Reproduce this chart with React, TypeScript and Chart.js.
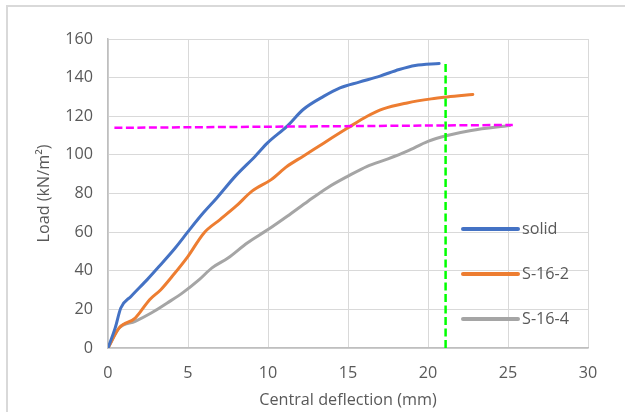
import React, { useEffect, useRef } from "react";
import { Chart, registerables } from "chart.js";

Chart.register(...registerables);

// ---- data ----
const solidX = [0, 0.45, 0.8, 1.45, 2.45, 3.2, 4.2, 5.1, 5.96, 6.8, 7.96, 9.2, 9.97, 11.2, 12.2, 13.5, 14.5, 15.7, 17, 18.2, 19.2, 20.7];
const solidY = [0, 10.4, 20.7, 26.8, 35.4, 42.3, 51.8, 61.3, 70, 77.7, 89, 99.3, 106.2, 114.9, 123.5, 130.4, 134.7, 137.7, 140.8, 144.2, 146.3, 147.3];

const s162X = [0, 0.7, 1.7, 2.6, 3.3, 4, 5, 6, 7, 8, 9, 10.2, 11.2, 12.2, 13.5, 15, 16.2, 17.2, 18.7, 20.2, 21.2, 22.8];
const s162Y = [0, 10.4, 15.5, 25, 30.2, 37, 47.5, 59.6, 66.5, 73.4, 81.2, 87.2, 94.1, 99.3, 106.2, 114, 120, 123.8, 126.9, 129, 130, 131.3];

const s164X = [0, 0.7, 1.7, 2.7, 3.7, 4.7, 5.7, 6.5, 7.5, 8.7, 10, 11.2, 12.5, 13.7, 15, 16.2, 17.5, 18.7, 20, 21.2, 22.7, 25.1];
const s164Y = [0, 10.4, 13.8, 18.1, 23.3, 28.8, 35.4, 41.5, 46.6, 54.4, 61.3, 68.2, 76, 82.9, 89, 94.1, 97.9, 101.9, 107, 110, 112.6, 115.2];

const hLineX = [0.4, 25.3];
const hLineY = [114, 115.5];
const vLineX = [21.1, 21.1];
const vLineY = [0, 147.5];

const seriesNames = ["solid", "S-16-2", "S-16-4"];
const seriesColors = ["#4472c4", "#ed7d31", "#a5a5a5"];

const xTicks = { min: 0, max: 30, step: 5 };
const yTicks = { min: 0, max: 160, step: 20 };

const xTitle = "Central deflection (mm)";
const yTitle = "Load (kN/m²)";

const FONT = "'Open Sans', 'Noto Sans', sans-serif";
const FS = 16.2;
const TEXT = "#595959";

const pts = (xs: number[], ys: number[]) => xs.map((x, i) => ({ x, y: ys[i] }));

const legendPlugin = {
  id: "customLegend",
  afterDatasetsDraw(chart: any) {
    const { ctx, chartArea } = chart;
    ctx.save();
    const x0 = chartArea.left + 355;
    const x1 = x0 + 55;
    const yStart = chartArea.top + 190;
    const gap = 45;
    seriesNames.forEach((name, i) => {
      const y = yStart + i * gap;
      ctx.strokeStyle = seriesColors[i];
      ctx.lineWidth = 4;
      ctx.lineCap = "round";
      ctx.beginPath();
      ctx.moveTo(x0, y);
      ctx.lineTo(x1, y);
      ctx.stroke();
      ctx.fillStyle = TEXT;
      ctx.font = `${FS}px ${FONT}`;
      ctx.textBaseline = "middle";
      ctx.textAlign = "left";
      ctx.fillText(name, x1 + 4, y);
    });
    ctx.restore();
  },
};

export default function App() {
  const ref = useRef<HTMLCanvasElement | null>(null);
  useEffect(() => {
    if (!ref.current) return;
    const seriesBase = {
      pointRadius: 0,
      borderWidth: 3,
      borderCapStyle: "round" as const,
      borderJoinStyle: "round" as const,
      cubicInterpolationMode: "monotone" as const,
      fill: false,
      order: 2,
    };
    const chart = new Chart(ref.current, {
      type: "line",
      data: {
        datasets: [
          { ...seriesBase, label: seriesNames[0], data: pts(solidX, solidY), borderColor: seriesColors[0] },
          { ...seriesBase, label: seriesNames[1], data: pts(s162X, s162Y), borderColor: seriesColors[1] },
          { ...seriesBase, label: seriesNames[2], data: pts(s164X, s164Y), borderColor: seriesColors[2] },
          {
            label: "limit",
            data: pts(hLineX, hLineY),
            borderColor: "#ff00ff",
            borderWidth: 2.5,
            borderDash: [8, 3.5],
            pointRadius: 0,
            fill: false,
            order: 0,
            clip: false,
          },
          {
            label: "deflection limit",
            data: pts(vLineX, vLineY),
            borderColor: "#00ff00",
            borderWidth: 2.5,
            borderDash: [8, 3.5],
            pointRadius: 0,
            fill: false,
            order: 0,
            clip: false,
          },
        ],
      },
      options: {
        animation: false,
        responsive: false,
        devicePixelRatio: 1,
        layout: { padding: { left: 0, top: 39, right: 37, bottom: 0 } },
        plugins: { legend: { display: false }, tooltip: { enabled: false } },
        scales: {
          x: {
            type: "linear",
            min: xTicks.min,
            max: xTicks.max,
            ticks: { stepSize: xTicks.step, color: TEXT, font: { family: FONT, size: FS }, padding: 16 },
            grid: { color: "#d9d9d9", lineWidth: 1, drawTicks: false },
            border: { color: "#bfbfbf", width: 1.5 },
            title: { display: true, text: xTitle, color: TEXT, font: { family: FONT, size: FS }, padding: { top: 0, bottom: 2 } },
            afterFit: (s: any) => { s.height = 64; },
          },
          y: {
            min: yTicks.min,
            max: yTicks.max,
            ticks: { stepSize: yTicks.step, color: TEXT, font: { family: FONT, size: FS }, padding: 15 },
            grid: { color: "#d9d9d9", lineWidth: 1, drawTicks: false },
            border: { color: "#bfbfbf", width: 1.5 },
            title: { display: true, text: yTitle, color: TEXT, font: { family: FONT, size: FS }, padding: { top: 35, bottom: 0 } },
            afterFit: (s: any) => { s.width = 108; },
          },
        },
      },
      plugins: [legendPlugin],
    });
    return () => chart.destroy();
  }, []);

  return (
    <div style={{ position: "fixed", left: 0, top: 0, width: 625, height: 412, overflow: "hidden", background: "#fff" }}>
      <div style={{ position: "absolute", left: 6, top: 5, width: 700, height: 500, border: "2px solid #d9d9d9", boxSizing: "border-box" }} />
      <canvas ref={ref} width={625} height={412} style={{ position: "absolute", left: 0, top: 0, width: 625, height: 412 }} />
    </div>
  );
}
